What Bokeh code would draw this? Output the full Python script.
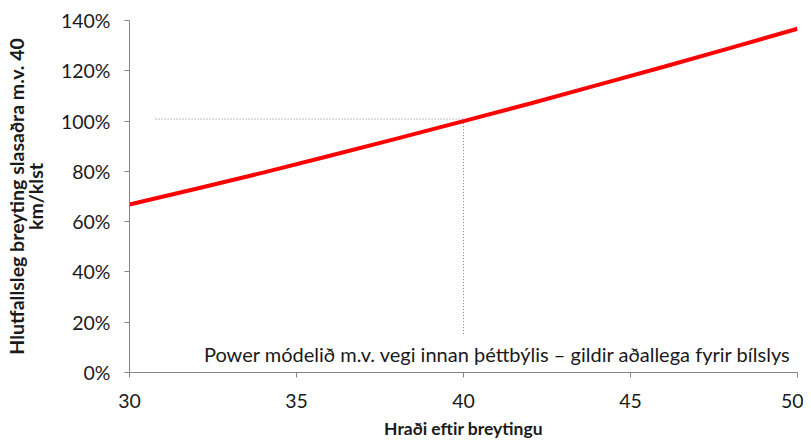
from bokeh.plotting import figure
from bokeh.models import NumeralTickFormatter, FixedTicker, Label, Range1d, LinearAxis
from bokeh.embed import file_html
from bokeh.resources import INLINE

# data
speed = [30, 32, 34, 36, 38, 40, 42, 44, 46, 48, 50]
ratio = [0.668, 0.731, 0.795, 0.862, 0.930, 1.0, 1.070, 1.143, 1.216, 1.291, 1.367]
ref_x = [30.78, 40.0, 40.0]
ref_y = [1.008, 1.008, 0.146]
x_ticks = [30, 35, 40, 45, 50]
y_ticks = [0, 0.2, 0.4, 0.6, 0.8, 1.0, 1.2, 1.4]
note = "Power módelið m.v. vegi innan þéttbýlis – gildir aðallega fyrir bílslys"
y_title = ["Hlutfallsleg breyting slasaðra m.v. 40", "km/klst"]
x_title = "Hraði eftir breytingu"

FONT = "Lato"
AXIS_COLOR = "#868686"
TEXT_COLOR = "#1a1a1a"

p = figure(width=803, height=441, output_backend="svg", toolbar_location=None,
           x_range=Range1d(30, 50), y_range=Range1d(0, 1.4),
           min_border_left=129, min_border_right=6, min_border_top=20, min_border_bottom=67)
p.outline_line_color = None
p.grid.visible = False
p.background_fill_color = "white"

p.line(ref_x, ref_y, line_color="#7f7f7f", line_width=1, line_dash="1 2")
p.line(speed, ratio, line_color="#ff0000", line_width=4)

p.add_layout(Label(x=50, y=0.075, x_offset=-6, text=note, text_align="right",
                   text_baseline="middle", text_font=FONT, text_font_size="20px",
                   text_color=TEXT_COLOR))

for ax in (p.xaxis[0], p.yaxis[0]):
    ax.axis_line_color = AXIS_COLOR
    ax.major_tick_line_color = AXIS_COLOR
    ax.minor_tick_line_color = None
    ax.major_tick_in = 0
    ax.major_tick_out = 5
    ax.major_label_text_font = FONT
    ax.major_label_text_font_size = "19.5px"
    ax.major_label_text_color = TEXT_COLOR
    ax.axis_label_text_font = FONT
    ax.axis_label_text_font_style = "bold"
    ax.axis_label_text_color = TEXT_COLOR

p.xaxis.ticker = FixedTicker(ticks=x_ticks)
p.yaxis.ticker = FixedTicker(ticks=y_ticks)
p.yaxis.formatter = NumeralTickFormatter(format="0%")
p.xaxis.major_label_standoff = 16
p.yaxis.major_label_standoff = 14
p.xaxis.axis_label = x_title
p.xaxis.axis_label_text_font_size = "17.5px"
p.xaxis.axis_label_standoff = 7
# second line of the y title sits next to the tick labels
p.yaxis.axis_label = y_title[1]
p.yaxis.axis_label_text_font_size = "19.5px"
p.yaxis.axis_label_standoff = 11

# first line of the y title: an outer, tick-less axis carrying only the label
outer = LinearAxis(ticker=FixedTicker(ticks=[]), axis_label=y_title[0],
                   axis_line_color=None, major_tick_line_color=None,
                   minor_tick_line_color=None, major_tick_in=0, major_tick_out=0,
                   major_label_standoff=0, major_label_text_font_size="0px",
                   axis_label_standoff=-7, axis_label_text_font=FONT,
                   axis_label_text_font_style="bold", axis_label_text_font_size="19.5px",
                   axis_label_text_color=TEXT_COLOR)
p.add_layout(outer, "left")

open("out.html", "w").write(file_html(p, INLINE))
